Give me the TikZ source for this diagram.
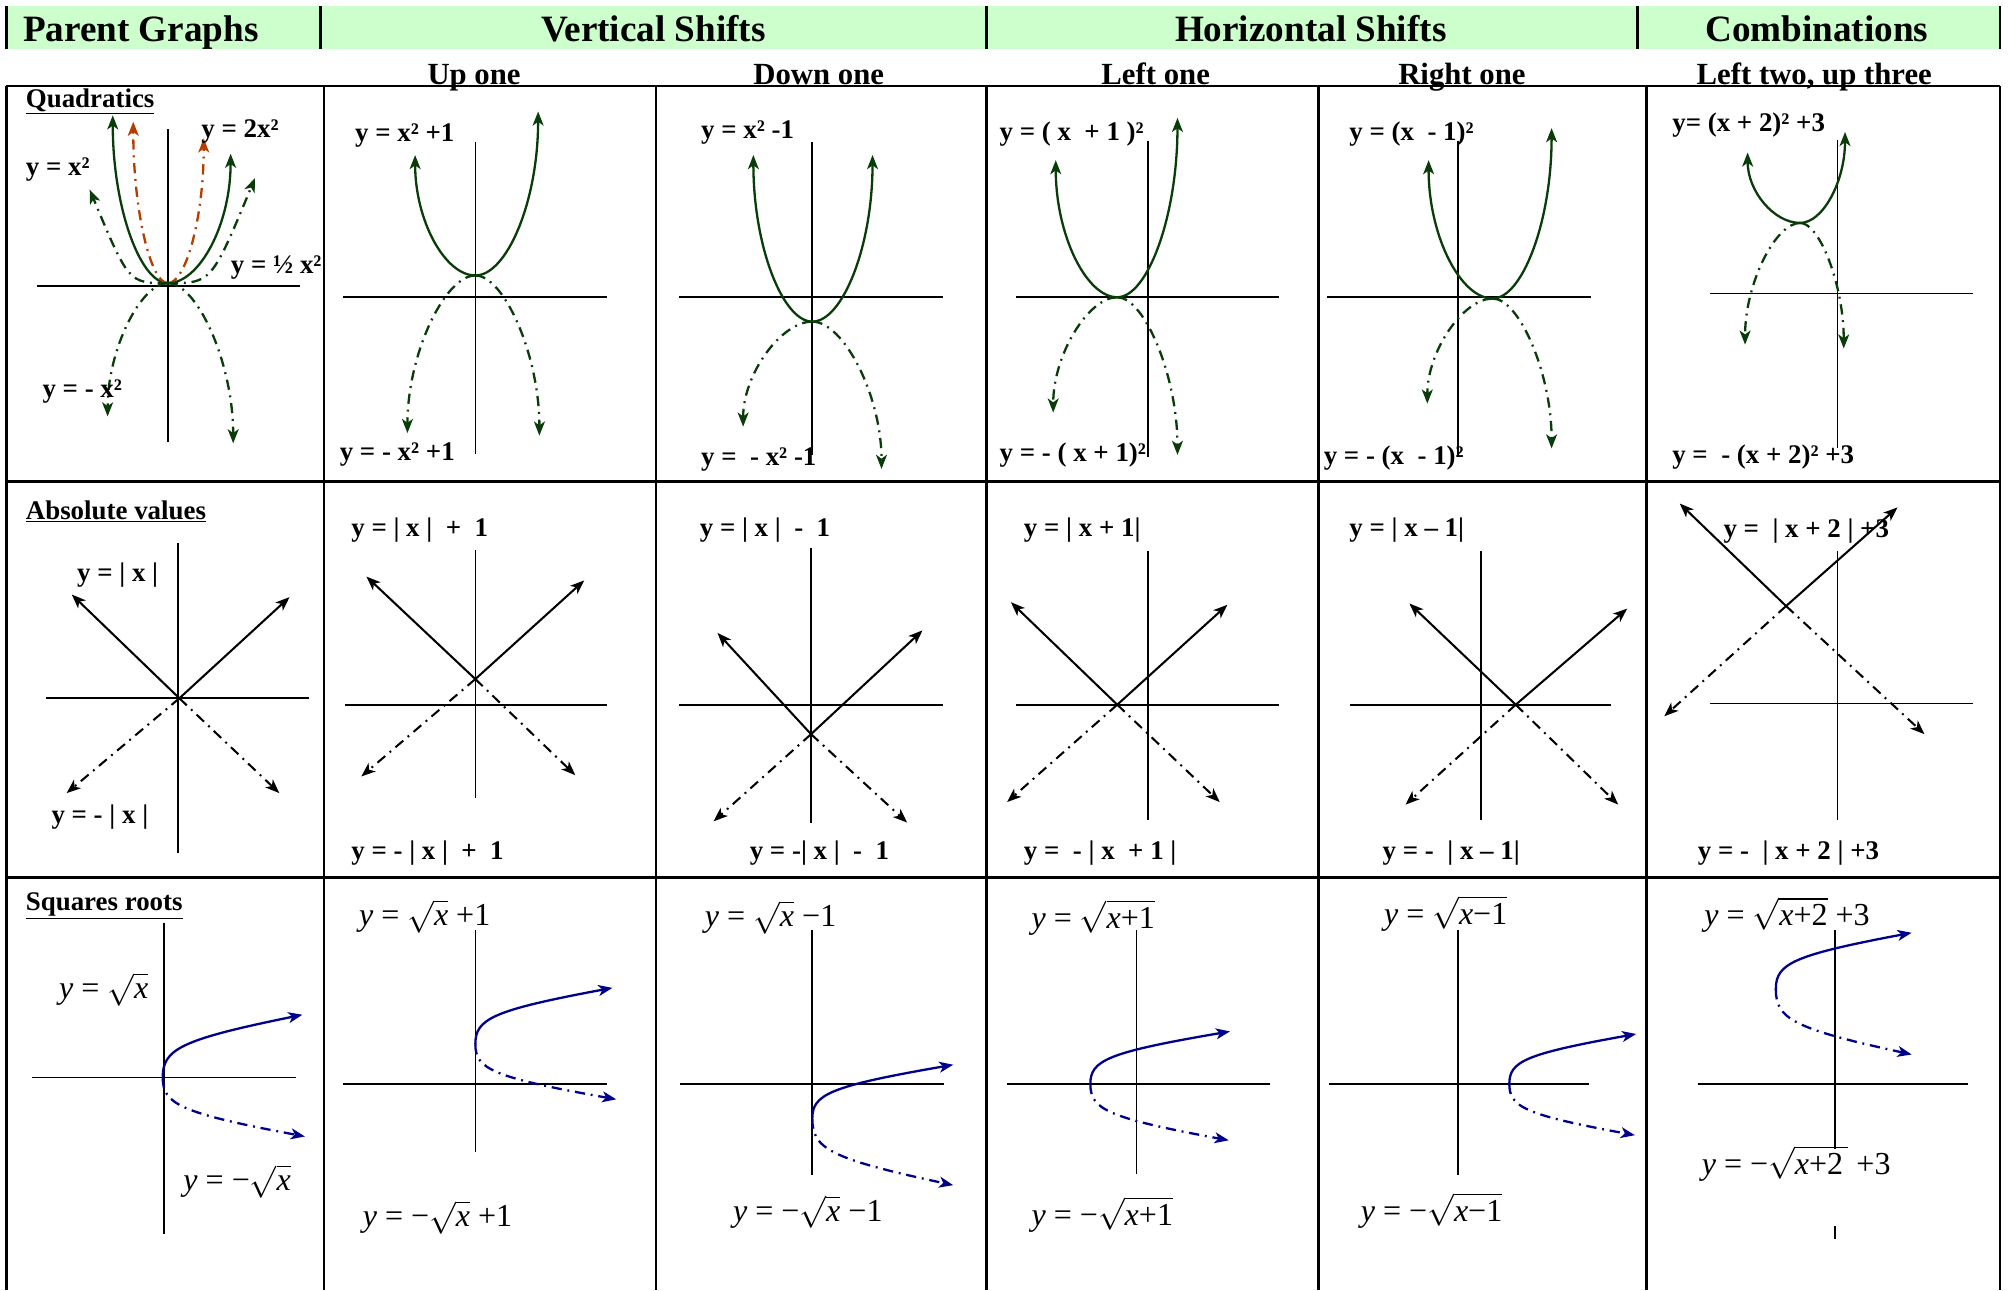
\RequirePackage{fix-cm}
\documentclass[tikz,border=0pt]{standalone}
\usepackage{fontspec}
\setmainfont{Liberation Serif}
\usetikzlibrary{arrows.meta}

\definecolor{hdrgreen}{RGB}{204,255,204}
\definecolor{qgreen}{RGB}{10,60,10}
\definecolor{qred}{RGB}{180,62,0}
\definecolor{rblue}{RGB}{0,0,140}

\newcommand{\rootlbl}[1]{$\sqrt{\mbox{#1}}$}

\begin{document}
\begin{tikzpicture}[x=1pt, y=-1pt, >={Stealth[length=11pt,width=8.5pt,inset=3pt]},
  tline/.style={line width=2pt},
  axis/.style={line width=1.3pt},
  ddot/.style={dash pattern=on 8pt off 4.5pt on 1.5pt off 4.5pt},
  qsol/.style={qgreen, line width=1.8pt, ->},
  qdd/.style={qsol, ddot},
  rdd/.style={qred, line width=1.8pt, ->, ddot},
  asol/.style={black, line width=1.6pt, ->},
  add/.style={asol, ddot},
  ssol/.style={rblue, line width=1.8pt, ->},
  sdd/.style={ssol, ddot},
  hdr/.style={anchor=base, inner sep=0pt, font=\fontsize{29}{32}\selectfont\bfseries},
  sub/.style={anchor=base, inner sep=0pt, font=\fontsize{24}{26}\selectfont\bfseries},
  ttl/.style={anchor=west, inner sep=0pt, yshift=-2pt, font=\fontsize{21}{23}\selectfont\bfseries},
  lbl/.style={anchor=west, inner sep=0pt, yshift=-1.5pt, font=\fontsize{21}{23}\selectfont\bfseries},
  rlbl/.style={anchor=west, inner sep=0pt, font=\fontsize{25}{28}\selectfont}]
\fill[white] (0,0) rectangle (1568,1007);
\useasboundingbox (0,0) rectangle (1568,1007);

% header band
\fill[hdrgreen] (5,5) rectangle (1561,38);
\foreach \x in {5,250,770,1278,1561} {\draw[tline] (\x,5) -- (\x,38);}
\node[hdr] (hParent) at (110,32) {Parent Graphs};
\node[hdr] (hVert) at (510,32) {Vertical Shifts};
\node[hdr] (hHoriz) at (1023,32) {Horizontal Shifts};
\node[hdr] (hComb) at (1418,32) {Combinations};
\node[sub] (sUp) at (370,66) {Up one};
\node[sub] (sDown) at (639,66) {Down one};
\node[sub] (sLeft) at (902,66) {Left one};
\node[sub] (sRight) at (1141,66) {Right one};
\node[sub] (sComb) at (1416,66) {Left two, up three};

% table
\foreach \y in {67,376,685} {\draw[tline] (5,\y) -- (1561,\y);}
\foreach \x in {5,253,512,770,1029,1285,1561} {\draw[tline] (\x,67) -- (\x,1007);}

% axes
\foreach \xa/\xb/\yh/\xv/\ya/\yb in {29/234/223/131/101/345, 268/474/232/371/111/354, 530/736/232/634/111/355,
  793/998/232/896/110/357, 1036/1242/232/1138/110/357, 1335/1540/229/1434/109/350,
  36/241/545/139/424/666, 269/474/550/371/429/623, 530/736/550/633/428/642,
  793/998/550/896/430/640, 1054/1257/550/1156/430/640, 1335/1540/549/1434/430/640,
  25/231/841/128/720/963, 268/474/846/371/726/899, 531/737/846/634/726/917,
  786/991/846/887/726/916, 1037/1240/846/1138/726/917, 1325/1536/846/1432/726/897}
  {\draw[axis] (\xa,\yh) -- (\xb,\yh); \draw[axis] (\xv,\ya) -- (\xv,\yb);}
\draw[axis] (1432,957) -- (1432,967);

% quadratics
\foreach \vx/\vy/\tx/\ty in {131/221/88/90, 131/221/180/120, 371/215/324/121, 371/215/420/87,
  634/251/588/121, 634/251/681/121, 872/232/824/125, 872/232/919/92,
  1165/233/1115/125, 1165/233/1211/100, 1405/174/1364/119, 1405/174/1440/103}
  {\draw[qsol] (\vx,\vy) .. controls ({\vx+0.5*(\tx-\vx)},\vy) and (\tx,{\ty+0.55*(\vy-\ty)}) .. (\tx,\ty);}
\foreach \vx/\vy/\tx/\ty in {131/221/84/325, 131/221/182/346, 371/215/318/338, 371/215/421/340,
  634/251/580/333, 634/251/688/366, 872/232/822/322, 872/232/919/355,
  1165/233/1114/315, 1165/233/1211/350, 1405/174/1362/269, 1405/174/1439/272}
  {\draw[qdd] (\vx,\vy) .. controls ({\vx+0.45*(\tx-\vx)},\vy) and (\tx,{\ty+0.5*(\vy-\ty)}) .. (\tx,\ty);}
\foreach \tx/\ty in {104/95, 159/108}
  {\draw[rdd] (131,221) .. controls ({131+0.5*(\tx-131)},221) and (\tx,{\ty+0.55*(221-\ty)}) .. (\tx,\ty);}
\foreach \tx/\ty in {70/148, 199/139}
  {\draw[qdd] (131,221) .. controls ({(131+\tx)/2},221) .. (\tx,\ty);}

\node[ttl] (tQuad) at (20,77) {\underline{Quadratics}};
\node[lbl] (qPa) at (157,101) {y = 2x²};
\node[lbl] (qPb) at (20,131) {y = x²};
\node[lbl] (qPc) at (180,207) {y = ½ x²};
\node[lbl] (qPd) at (33,304) {y = - x²};
\node[lbl] (qUa) at (277,104) {y = x² +1};
\node[lbl] (qUb) at (265,353) {y = - x² +1};
\node[lbl] (qDa) at (547,102) {y = x² -1};
\node[lbl] (qDb) at (547,357) {y = ~- x² -1};
\node[lbl] (qLa) at (780,103) {y = ( x ~+ 1 )²};
\node[lbl] (qLb) at (780,354) {y = - ( x + 1)²};
\node[lbl] (qRa) at (1053,103) {y = (x ~- 1)²};
\node[lbl] (qRb) at (1033,356) {y = - (x ~- 1)²};
\node[lbl] (qCa) at (1305,96) {y= (x + 2)² +3};
\node[lbl] (qCb) at (1305,355) {y = ~- (x + 2)² +3};

% absolute values
\foreach \vx/\vy/\ax/\ay/\bx/\by/\cx/\cy/\dx/\dy in {140/545/56/464/226/466/52/619/218/619,
  371/530/286/450/456/453/282/606/449/605, 633/573/560/494/720/492/557/641/708/642,
  872/550/789/470/958/472/786/626/952/626, 1183/550/1100/471/1270/475/1097/628/1263/628,
  1394/473/1311/393/1481/396/1299/559/1502/573}
  {\draw[asol] (\vx,\vy) -- (\ax,\ay); \draw[asol] (\vx,\vy) -- (\bx,\by);
   \draw[add] (\vx,\vy) -- (\cx,\cy); \draw[add] (\vx,\vy) -- (\dx,\dy);}

\node[ttl] (tAbs) at (20,397) {\underline{Absolute values}};
\node[lbl] (aPa) at (60,447) {y = | x |};
\node[lbl] (aPb) at (40,636) {y = - | x |};
\node[lbl] (aUa) at (274,412) {y = | x | ~+ ~1};
\node[lbl] (aUb) at (274,664) {y = - | x | ~+ ~1};
\node[lbl] (aDa) at (546,412) {y = | x | ~- ~1};
\node[lbl] (aDb) at (585,664) {y = -| x | ~- ~1};
\node[lbl] (aLa) at (799,412) {y = | x + 1|};
\node[lbl] (aLb) at (799,664) {y = ~- | x ~+ 1 |};
\node[lbl] (aRa) at (1053,412) {y = | x – 1|};
\node[lbl] (aRb) at (1079,664) {y = - ~| x – 1|};
\node[lbl] (aCa) at (1345,413) {y = ~| x + 2 | +3};
\node[lbl] (aCb) at (1325,664) {y = - ~| x + 2 | +3};

% square roots
\foreach \sx/\sy/\tx/\ty in {127/841/236/792, 371/815/478/771, 634/873/744/831,
  851/846/960/805, 1178/846/1277/807, 1386/772/1492/728}
  {\draw[ssol] (\sx,\sy) .. controls (\sx,{\sy+0.45*(\ty-\sy)}) and ({\sx+0.12*(\tx-\sx)},{\sy+0.6*(\ty-\sy)}) .. (\tx,\ty);}
\foreach \sx/\sy/\tx/\ty in {127/841/238/887, 371/815/481/858, 634/873/744/925,
  851/846/959/890, 1178/846/1276/886, 1386/772/1492/823}
  {\draw[sdd] (\sx,\sy) .. controls (\sx,{\sy+0.45*(\ty-\sy)}) and ({\sx+0.12*(\tx-\sx)},{\sy+0.6*(\ty-\sy)}) .. (\tx,\ty);}

\node[ttl] (tSqrt) at (20,705) {\underline{Squares roots}};
\node[rlbl] (sPa) at (46,772) {\textit{y} = \rootlbl{\textit{x}}};
\node[rlbl] (sPb) at (143,922) {\textit{y} = −\rootlbl{\textit{x}}};
\node[rlbl] (sUa) at (280,715) {\textit{y} = \rootlbl{\textit{x}} +1};
\node[rlbl] (sUb) at (283,950) {\textit{y} = −\rootlbl{\textit{x}} +1};
\node[rlbl] (sDa) at (550,716) {\textit{y} = \rootlbl{\textit{x}} −1};
\node[rlbl] (sDb) at (572,946) {\textit{y} = −\rootlbl{\textit{x}} −1};
\node[rlbl] (sLa) at (805,716) {\textit{y} = \rootlbl{\textit{x}+1}};
\node[rlbl] (sLb) at (805,948) {\textit{y} = −\rootlbl{\textit{x}+1}};
\node[rlbl] (sRa) at (1080,713) {\textit{y} = \rootlbl{\textit{x}−1}};
\node[rlbl] (sRb) at (1062,945) {\textit{y} = −\rootlbl{\textit{x}−1}};
\node[rlbl] (sCa) at (1330,714) {\textit{y} = \rootlbl{\textit{x}+2} +3};
\node[rlbl] (sCb) at (1328,908) {\textit{y} = −\rootlbl{\textit{x}+2\,} +3};
\end{tikzpicture}
\end{document}
